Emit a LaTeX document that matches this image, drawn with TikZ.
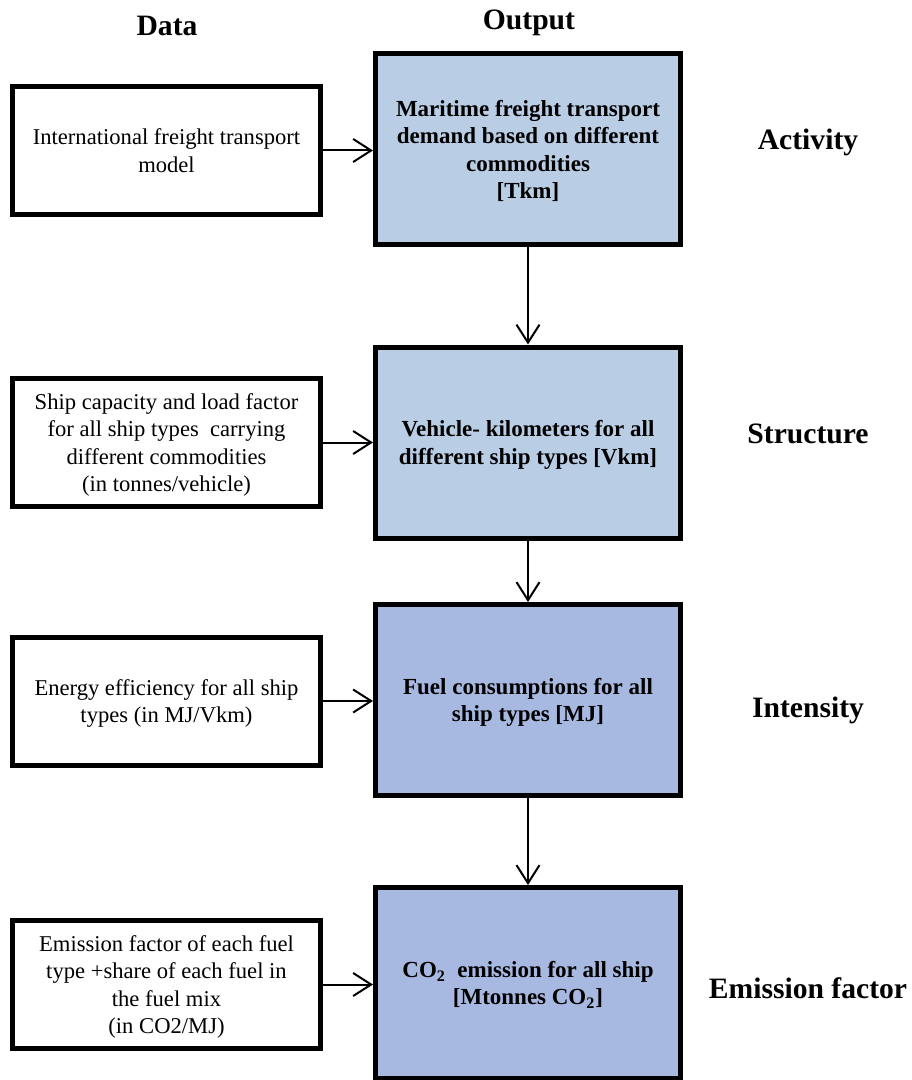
\documentclass[tikz,border=0pt]{standalone}
\usepackage{fontspec}
\setmainfont{Liberation Serif}
\usetikzlibrary{arrows.meta}

\definecolor{outblue}{HTML}{B9CDE5}
\definecolor{outviolet}{HTML}{A8B9E1}

\tikzset{
  datbox/.style={draw, line width=2.5pt, minimum width=154pt, minimum height=64pt,
    align=center, inner sep=2pt, text depth=0pt, font=\fontsize{11.3pt}{13.8pt}\selectfont},
  outbox/.style={draw, line width=2.5pt, minimum width=152.5pt, minimum height=95.5pt,
    align=center, inner sep=2pt, text depth=0pt, font=\fontsize{11.5pt}{13.7pt}\selectfont\bfseries},
  heading/.style={anchor=base, font=\fontsize{14.8pt}{17pt}\selectfont\bfseries},
  flow/.style={line width=1pt, -{Straight Barb[length=9pt,width=11.5pt]}}
}

\begin{document}
\begin{tikzpicture}[x=0.5pt,y=-0.5pt]
    \useasboundingbox (0,0) rectangle (911,1080);

    % Column headings
    \node[heading] (dat) at (167,36) {Data};
    \node[heading] (outp) at (529,30) {Output};

    % Data boxes
    \node[datbox] (in1) at (166.5,150.5) {International freight transport\\model};
    \node[datbox] (in2) at (166.5,442.5) {Ship capacity and load factor\\for all ship types~ carrying\\different commodities\\(in tonnes/vehicle)};
    \node[datbox] (in3) at (166.5,701) {Energy efficiency for all ship\\types (in MJ/Vkm)};
    \node[datbox] (in4) at (166.5,984.5) {Emission factor of each fuel\\type +share of each fuel in\\the fuel mix\\(in CO2/MJ)};

    % Output boxes
    \node[outbox, fill=outblue] (out1) at (528,149.5) {Maritime freight transport\\demand based on different\\commodities\\{[Tkm]}};
    \node[outbox, fill=outblue] (out2) at (528,442.5) {Vehicle- kilometers for all\\different ship types [Vkm]};
    \node[outbox, fill=outviolet] (out3) at (528,700) {Fuel consumptions for all\\ship types [MJ]};
    \node[outbox, fill=outviolet] (out4) at (528,983) {CO\textsubscript{2}~ emission for all ship\\{[Mtonnes CO\textsubscript{2}]}};

    % Row labels
    \node[heading] (act) at (808,150) {Activity};
    \node[heading] (str) at (808,443) {Structure};
    \node[heading] (int) at (808,717) {Intensity};
    \node[heading] (emi) at (808,998) {Emission factor};

    % Arrows from data to output
    \foreach \i in {1,...,4} {
        \draw[flow] (in\i.east) -- (in\i.east -| out\i.west);
    }

    % Arrows down the output column
    \foreach \a/\b in {out1/out2, out2/out3, out3/out4} {
        \draw[flow] (\a.south) -- (\b.north);
    }

\end{tikzpicture}
\end{document}
